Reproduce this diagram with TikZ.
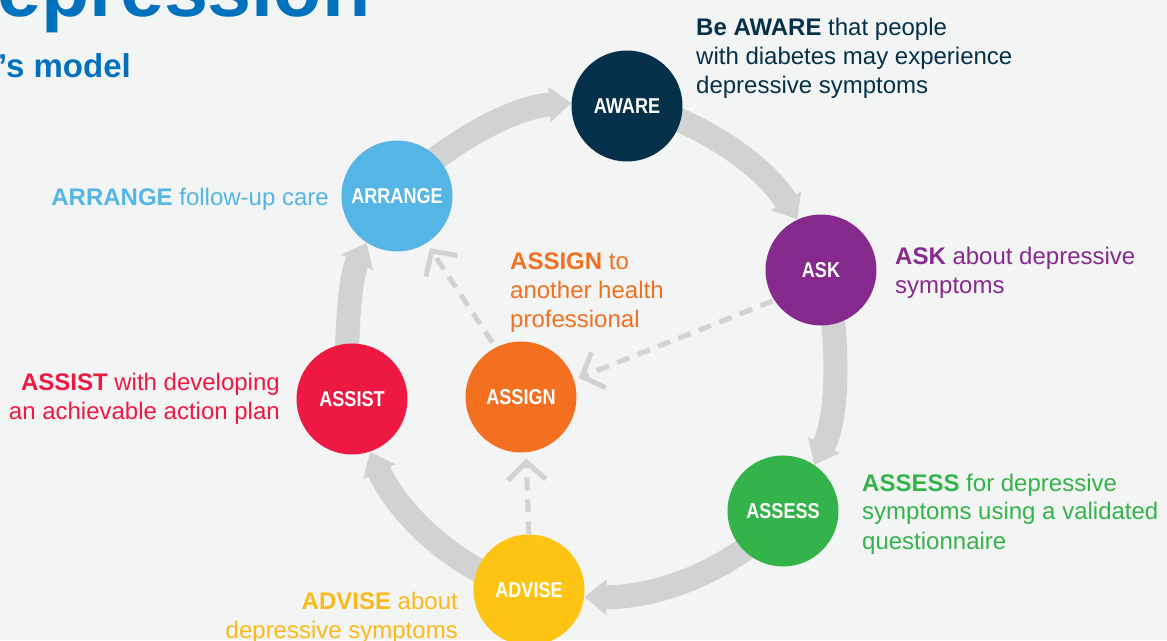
\documentclass[tikz,border=0pt]{standalone}
\usepackage{fontspec}
\setmainfont{Liberation Sans}
\newfontfamily\condfont[FakeStretch=0.84]{Liberation Sans}
\usetikzlibrary{arrows.meta,backgrounds}
\definecolor{bg}{RGB}{243,244,244}
\definecolor{ringgray}{RGB}{209,211,210}
\definecolor{awarec}{RGB}{5,48,74}
\definecolor{askc}{RGB}{134,42,142}
\definecolor{assessc}{RGB}{52,179,74}
\definecolor{advisec}{RGB}{253,196,20}
\definecolor{advisetxt}{RGB}{251,186,27}
\definecolor{assistc}{RGB}{237,25,67}
\definecolor{assignc}{RGB}{243,112,33}
\definecolor{arrangec}{RGB}{85,181,229}
\definecolor{titleblue}{RGB}{0,113,188}
\begin{document}
\begin{tikzpicture}[x=1pt,y=1pt,
  stage/.style={circle, fill=#1, minimum size=111pt, inner sep=0pt, text=white,
    font=\condfont\bfseries\fontsize{21.5}{25}\selectfont},
  lbl/.style={text=#1, font=\fontsize{24}{29}\selectfont, inner sep=0pt},
  ringarrow/.style={draw=ringgray, line width=24pt, shorten <=-14pt, looseness=0.86,
    -{Triangle[length=22pt,width=34pt]}},
  dasharrow/.style={draw=ringgray, line width=5pt, dash pattern=on 13pt off 9pt,
    -{Straight Barb[length=18pt,width=38pt]}}]
\useasboundingbox (0,0) rectangle (1167,640);
\begin{pgfonlayer}{background}
\fill[bg] (0,0) rectangle (1167,640);
\end{pgfonlayer}

% title
\node[anchor=base west, inner sep=0pt, text=titleblue,
  font=\bfseries\fontsize{79}{90}\selectfont] (title) at (-3,623) {epression};
\node[anchor=base west, inner sep=0pt, text=titleblue,
  font=\bfseries\fontsize{33}{38}\selectfont] (subtitle) at (-2,562) {’s model};

% stages
\node[stage=awarec] (aware) at (627,534) {AWARE};
\node[stage=askc] (ask) at (821,370) {ASK};
\node[stage=assessc] (assess) at (783,129) {ASSESS};
\node[stage=advisec] (advise) at (529,50) {ADVISE};
\node[stage=assistc] (assist) at (352,241) {ASSIST};
\node[stage=assignc] (assign) at (521,243) {ASSIGN};
\node[stage=arrangec] (arrange) at (397,444) {ARRANGE};

% ring arrows
\begin{pgfonlayer}{background}
\draw[ringarrow] (arrange.44.7) to[out=38.3, in=183.7] (aware.177.3);
\draw[ringarrow] (aware.-15.5) to[out=-21.9, in=121.75] (ask.115.35);
\draw[ringarrow] (ask.-77.45) to[out=-83.85, in=63.3] (assess.56.9);
\draw[ringarrow] (assess.-135.9) to[out=-142.3, in=-1] (advise.-7.4);
\draw[ringarrow] (advise.159.8) to[out=153.4, in=-65.5] (assist.-71.9);
\draw[ringarrow] (assist.95.3) to[out=88.9, in=243.9] (arrange.237.5);
\end{pgfonlayer}

% dashed arrows
\draw[dasharrow, shorten <=6pt, shorten >=6pt] (assign.117) -- (arrange.302);
\draw[dasharrow, shorten <=2pt, shorten >=5pt] (ask.213) -- (assign.18);
\draw[dasharrow, shorten >=6pt] (advise.north) -- (assign.275);

% labels (base anchor = last line baseline)
\node[lbl=awarec, anchor=base west, align=left] (awaretxt) at (696,546.5)
  {\textbf{Be AWARE} that people\\with diabetes may experience\\depressive symptoms};
\node[lbl=askc, anchor=base west, align=left] (asktxt) at (895,346.5)
  {\textbf{ASK} about depressive\\symptoms};
\node[lbl=assessc, anchor=base west, align=left] (assesstxt) at (862,91)
  {\textbf{ASSESS} for depressive\\symptoms using a validated\\questionnaire};
\node[lbl=advisetxt, anchor=base east, align=right] (advisetext) at (458,2)
  {\textbf{ADVISE} about\\depressive symptoms};
\node[lbl=assistc, anchor=base east, align=right] (assisttxt) at (280,220)
  {\textbf{ASSIST} with developing\\an achievable action plan};
\node[lbl=arrangec, anchor=base east] (arrangetxt) at (329,434)
  {\textbf{ARRANGE} follow-up care};
\node[lbl=assignc, anchor=base west, align=left] (assigntxt) at (510,312)
  {\textbf{ASSIGN} to\\another health\\professional};
\end{tikzpicture}
\end{document}
